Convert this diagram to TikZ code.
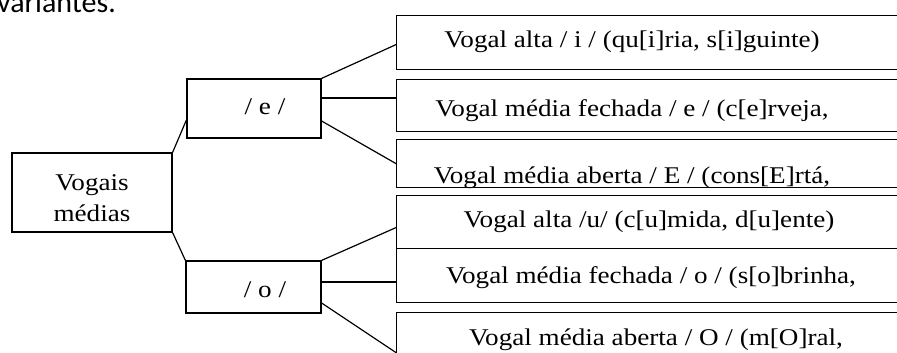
\documentclass[tikz,border=0pt]{standalone}
\usepackage{fontspec}
\setmainfont{Liberation Serif}[FakeStretch=1.13]
\newfontfamily\headfont{Carlito}
\usepackage{tikz}
\usetikzlibrary{positioning}

\begin{document}
\begin{tikzpicture}[
  x=1pt, y=-1pt,
  box/.style={rectangle, draw=black, line width=1.2pt, inner sep=0pt},
  leaf/.style={box, anchor=north west, minimum width=560pt},
  txt/.style={anchor=base, inner sep=0pt, font=\fontsize{24}{31}\selectfont},
  link/.style={line width=1.2pt}
]
\useasboundingbox (0,0) rectangle (897,353);
\clip (0,0) rectangle (897,353);

% cut-off heading line above the picture
\node[anchor=base west, inner sep=0pt, font=\headfont\fontsize{30}{36}\selectfont] (head) at (-3,13) {variantes.};

% root and the two phonemes
\node[box, minimum width=160pt, minimum height=79pt] (vogais) at (92,192.5) {};
\node[txt] (vogaisA) at (92,190) {Vogais};
\node[txt] (vogaisB) at (92,221) {médias};

\node[box, minimum width=134pt, minimum height=59pt] (e) at (254,108.5) {};
\node[txt] (etxt) at (265,114) {/ e /};
\node[box, minimum width=135pt, minimum height=52pt] (o) at (253.5,287) {};
\node[txt] (otxt) at (265,297) {/ o /};

% variants (boxes run past the right edge)
\node[leaf, minimum height=54pt] (r1) at (396,15) {};
\node[leaf, minimum height=52pt] (r2) at (396,79) {};
\node[leaf, minimum height=48pt] (r3) at (396,139) {};
\node[leaf, minimum height=53pt] (r4) at (396,195) {};
\node[leaf, minimum height=54pt] (r5) at (396,248) {};
\node[leaf, minimum height=80pt] (r6) at (396,312) {};

\begin{scope}
  \clip (r3.north west) rectangle (r3.south east);
  \node[txt] (t3) at (632,183) {Vogal média aberta / E / (cons[E]rtá,};
\end{scope}
\node[txt] (t1) at (632,48) {Vogal alta / i / (qu[i]ria, s[i]guinte)};
\node[txt] (t2) at (632,117) {Vogal média fechada / e / (c[e]rveja,};
\node[txt] (t4) at (649,227) {Vogal alta /u/ (c[u]mida, d[u]ente)};
\node[txt] (t5) at (651,283) {Vogal média fechada / o / (s[o]brinha,};
\node[txt] (t6) at (656,345) {Vogal média aberta / O / (m[O]ral,};

% connectors
\draw[link] (vogais.north east) -- ([yshift=-11.5pt]e.west);
\draw[link] (vogais.south east) -- (o.north west);

\draw[link] (e.north east) -- ([yshift=-2pt]r1.west);
\draw[link] ([yshift=10.5pt]e.east) -- ([yshift=10.5pt]e.east -| r2.west);
\draw[link] ([yshift=-12.5pt]e.east) -- (r3.west);

\draw[link] (o.north east) -- ([yshift=-5.5pt]r4.west);
\draw[link] ([yshift=5pt]o.east) -- ([yshift=5pt]o.east -| r5.west);
\draw[link] ([yshift=-16pt]o.east) -- (r6.west);

\end{tikzpicture}
\end{document}
